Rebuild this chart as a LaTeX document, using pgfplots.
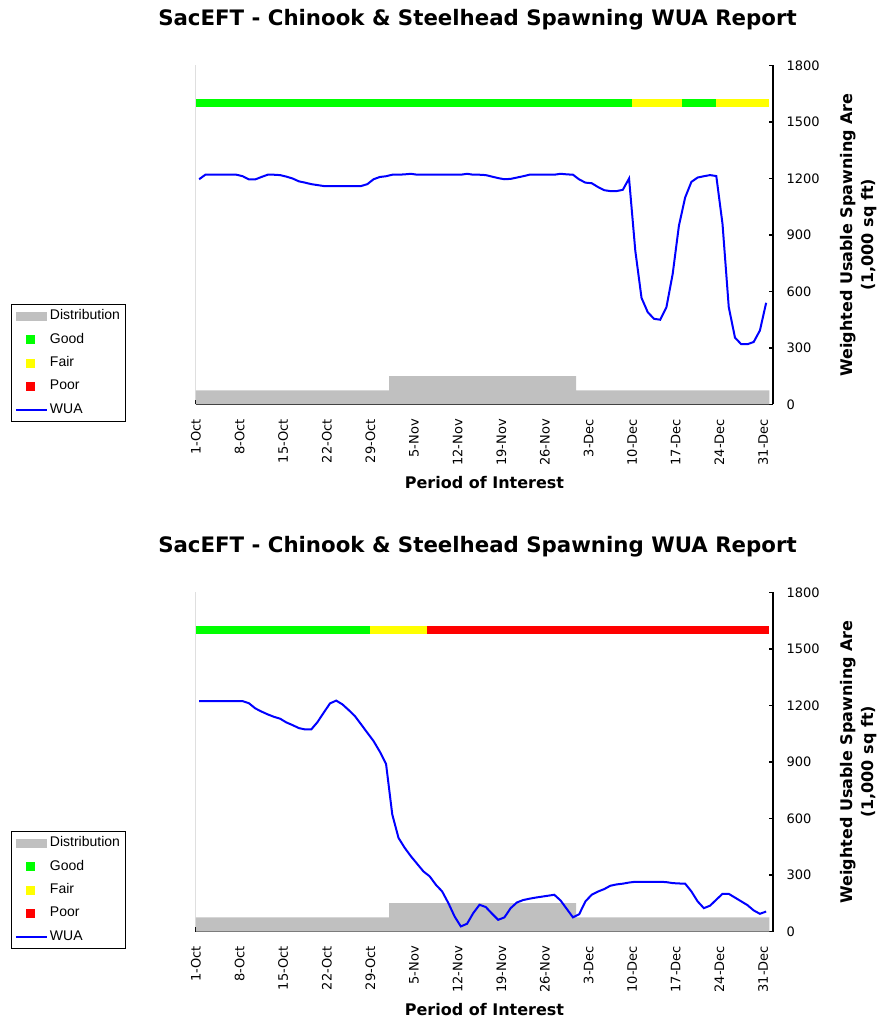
\documentclass[border=0pt]{standalone}
\usepackage{pgfplots}
\usepackage{pgfplotstable}
\usepackage{fontspec}
\pgfplotsset{compat=1.18}
\setmainfont{DejaVu Sans}
\newfontfamily\legendfont{Liberation Sans}

\definecolor{distgray}{HTML}{C0C0C0}
\definecolor{xlgreen}{HTML}{00FF00}
\definecolor{xlyellow}{HTML}{FFFF00}
\definecolor{xlred}{HTML}{FF0000}
\definecolor{xlblue}{HTML}{0000FF}

% day index (0 = 1-Oct), WUA in 1,000 sq ft
\pgfplotstableread{
d wua
0 1196
1 1220
2 1220
3 1220
4 1220
5 1220
6 1220
7 1212
8 1195
9 1195
10 1208
11 1220
12 1220
13 1218
14 1210
15 1200
16 1185
17 1178
18 1170
19 1165
20 1160
21 1160
22 1160
23 1160
24 1160
25 1160
26 1160
27 1170
28 1196
29 1208
30 1212
31 1220
32 1220
33 1222
34 1225
35 1220
36 1220
37 1220
38 1220
39 1220
40 1220
41 1220
42 1220
43 1225
44 1220
45 1220
46 1218
47 1210
48 1202
49 1196
50 1198
51 1205
52 1212
53 1220
54 1220
55 1220
56 1220
57 1220
58 1225
59 1222
60 1220
61 1195
62 1178
63 1175
64 1155
65 1138
66 1133
67 1133
68 1140
69 1200
70 817
71 566
72 490
73 455
74 450
75 517
76 693
77 949
78 1099
79 1182
80 1205
81 1212
82 1218
83 1213
84 958
85 517
86 355
87 320
88 320
89 332
90 393
91 540
}\wuatop

\pgfplotstableread{
d wua
0 1223
1 1223
2 1223
3 1223
4 1223
5 1223
6 1223
7 1223
8 1212
9 1185
10 1168
11 1153
12 1140
13 1130
14 1110
15 1096
16 1080
17 1073
18 1073
19 1112
20 1162
21 1211
22 1226
23 1206
24 1176
25 1144
26 1100
27 1055
28 1011
29 955
30 890
31 621
32 497
33 444
34 399
35 359
36 319
37 293
38 248
39 213
40 151
41 80
42 27
43 41
44 98
45 142
46 130
47 95
48 62
49 75
50 124
51 154
52 167
53 174
54 180
55 185
56 190
57 195
58 165
59 120
60 75
61 92
62 160
63 195
64 212
65 225
66 243
67 250
68 254
69 260
70 264
71 264
72 264
73 264
74 264
75 262
76 257
77 255
78 254
79 213
80 160
81 124
82 137
83 169
84 200
85 200
86 180
87 160
88 140
89 112
90 94
91 106
}\wuabot

\pgfplotsset{
  wuapanel/.style={
    scale only axis, width=577pt, height=339pt, anchor=south west,
    xmin=0, xmax=92.6, ymin=0, ymax=1800,
    axis x line*=bottom, axis y line*=right,
    axis line style={line width=1.8pt},
    tick align=inside, major tick length=4.5pt,
    tick style={line width=1.5pt, black},
    xtick={0,7,...,91},
    xticklabels={1-Oct,8-Oct,15-Oct,22-Oct,29-Oct,5-Nov,12-Nov,19-Nov,26-Nov,3-Dec,10-Dec,17-Dec,24-Dec,31-Dec},
    xticklabel style={rotate=90, anchor=east, xshift=-11pt, font=\fontsize{13}{15}\selectfont},
    ytick={0,300,...,1800},
    yticklabel style={font=\fontsize{13}{15}\selectfont, xshift=10pt},
    /pgf/number format/assume math mode=true,
    /pgf/number format/1000 sep={},
    title={SacEFT - Chinook \& Steelhead Spawning WUA Report},
    title style={font=\bfseries\fontsize{21.3}{25}\selectfont, at={(axis description cs:0.5,1)}, anchor=center, xshift=-7pt, yshift=39.5pt},
    xlabel={Period of Interest},
    xlabel style={font=\bfseries\fontsize{16}{19}\selectfont, at={(axis description cs:0.5,0)}, anchor=center, yshift=-78pt},
    ylabel={Weighted Usable Spawning Are\\(1,000 sq ft)},
    ylabel style={font=\bfseries\fontsize{16}{21}\selectfont, align=center, at={(axis description cs:1,0.5)}, anchor=center, yshift=-85.7pt},
    legend style={at={(axis description cs:-0.3206,0.295)}, anchor=north west,
      draw=black, line width=0.9pt, fill=white, legend cell align=left,
      font=\legendfont\fontsize{14}{16}\selectfont,
      nodes={inner sep=1.5pt, text height=10.5pt, text depth=3.5pt},
      row sep=6.3pt, inner xsep=4pt, inner ysep=3pt},
  },
  legdist/.style={legend image code/.code={\fill[distgray, draw=none] (0pt,-4.2pt) rectangle (31pt,4.2pt);}},
  legsq/.style={legend image code/.code={\path[draw=none, fill=none] (0pt,0pt) rectangle (31pt,0pt); \fill[#1, draw=none] (10pt,-4.5pt) rectangle (19pt,4.5pt);}},
  legline/.style={legend image code/.code={\draw[xlblue, line width=2pt] (0pt,0pt) -- (31pt,0pt);}},
}

\begin{document}
\begin{tikzpicture}
\path[use as bounding box] (0,0) rectangle (878pt,1021pt);

% ---- upper chart ----
\begin{axis}[wuapanel, at={(196pt,616.5pt)}]
\addplot[const plot, fill=distgray, draw=none, forget plot]
  coordinates {(0,75) (31,150) (61,75) (92,75)} \closedcycle;
\addplot[xlgreen, line width=8.3pt, forget plot] coordinates {(0,1600) (70,1600)};
\addplot[xlyellow, line width=8.3pt, forget plot] coordinates {(70,1600) (78,1600)};
\addplot[xlgreen, line width=8.3pt, forget plot] coordinates {(78,1600) (83.5,1600)};
\addplot[xlyellow, line width=8.3pt, forget plot] coordinates {(83.5,1600) (92,1600)};
\addplot[xlblue, line width=2pt, forget plot] table[x expr=\thisrow{d}+0.5, y=wua] {\wuatop};
\draw[line width=1pt] (rel axis cs:0,0) -- (rel axis cs:0,1);
\addlegendimage{legdist}\addlegendentry{Distribution}
\addlegendimage{legsq=xlgreen}\addlegendentry{Good}
\addlegendimage{legsq=xlyellow}\addlegendentry{Fair}
\addlegendimage{legsq=xlred}\addlegendentry{Poor}
\addlegendimage{legline}\addlegendentry{WUA}
\end{axis}

% ---- lower chart ----
\begin{axis}[wuapanel, at={(196pt,89.5pt)}]
\addplot[const plot, fill=distgray, draw=none, forget plot]
  coordinates {(0,75) (31,150) (61,75) (92,75)} \closedcycle;
\addplot[xlgreen, line width=8.3pt, forget plot] coordinates {(0,1600) (28,1600)};
\addplot[xlyellow, line width=8.3pt, forget plot] coordinates {(28,1600) (37,1600)};
\addplot[xlred, line width=8.3pt, forget plot] coordinates {(37,1600) (92,1600)};
\addplot[xlblue, line width=2pt, forget plot] table[x expr=\thisrow{d}+0.5, y=wua] {\wuabot};
\draw[line width=1pt] (rel axis cs:0,0) -- (rel axis cs:0,1);
\addlegendimage{legdist}\addlegendentry{Distribution}
\addlegendimage{legsq=xlgreen}\addlegendentry{Good}
\addlegendimage{legsq=xlyellow}\addlegendentry{Fair}
\addlegendimage{legsq=xlred}\addlegendentry{Poor}
\addlegendimage{legline}\addlegendentry{WUA}
\end{axis}
\end{tikzpicture}
\end{document}
